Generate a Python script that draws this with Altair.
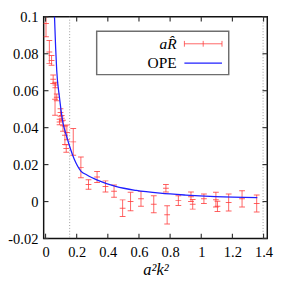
import altair as alt
import pandas as pd

# ---- data ----
x_vals = [0.003, 0.0245, 0.0387, 0.049, 0.063, 0.061, 0.072, 0.090, 0.096, 0.104,
          0.112, 0.1245, 0.133, 0.137, 0.178, 0.227, 0.276, 0.331, 0.385, 0.440,
          0.495, 0.546, 0.613, 0.695, 0.773, 0.781, 0.853, 0.934, 0.945, 1.017,
          1.094, 1.104, 1.176, 1.262, 1.356]
y_vals = [0.0964, 0.081, 0.0764, 0.0662, 0.0631, 0.0554, 0.0564, 0.0431, 0.0482, 0.0451,
          0.041, 0.0359, 0.0287, 0.0374, 0.0323, 0.0185, 0.0092, 0.0133, 0.0082, 0.0056,
          -0.0036, 0.0, 0.0015, -0.0015, 0.0072, -0.0072, 0.0005, 0.0026, -0.0015, 0.0015,
          0.001, -0.0026, -0.0005, 0.0015, -0.001]
err_vals = [0.0072, 0.0062, 0.0026, 0.0023, 0.0015, 0.0087, 0.0018, 0.0015, 0.002, 0.0015,
            0.003, 0.005, 0.002, 0.004, 0.0072, 0.0056, 0.0026, 0.003, 0.003, 0.0033,
            0.0045, 0.005, 0.004, 0.0046, 0.002, 0.0049, 0.0026, 0.0026, 0.0026, 0.0026,
            0.004, 0.0028, 0.0046, 0.0044, 0.0046]
ope_x = [0.057, 0.065, 0.072, 0.09, 0.112, 0.133, 0.184, 0.227, 0.266, 0.337, 0.45,
         0.583, 0.736, 0.9, 1.09, 1.36]
ope_y = [0.1015, 0.083, 0.0708, 0.056, 0.0426, 0.036, 0.023, 0.0165, 0.0144, 0.0115,
         0.0082, 0.006, 0.0045, 0.0035, 0.0027, 0.0021]
x_ticks = [0, 0.2, 0.4, 0.6, 0.8, 1.0, 1.2, 1.4]
y_ticks = [-0.02, 0, 0.02, 0.04, 0.06, 0.08, 0.1]
cut_lines = [0.155, 1.397]
legend_labels = ["aR\u0302", "OPE"]
x_title = "a\u00b2k\u00b2"

W, H = 232, 230
FONT = "Liberation Serif"
RED = "#ff3b3b"
BLUE = "#1f1fff"

xs = alt.Scale(domain=[-0.012, 1.424], nice=False, zero=False)
ys = alt.Scale(domain=[-0.02, 0.1], nice=False, zero=False)
xaxis = alt.Axis(values=x_ticks, format=".1~f", ticks=False, domain=False, grid=False,
                 labelPadding=7, labelFontSize=15, title=x_title, titleFontStyle="italic",
                 titleFontWeight="normal", titleFontSize=17, titlePadding=2,
                 titleFont=FONT)
yaxis = alt.Axis(values=y_ticks, ticks=False, domain=False, grid=False,
                 labelExpr="datum.value < 0 ? '-' + format(-datum.value, '.2~f') : format(datum.value, '.2~f')",
                 labelPadding=6, labelFontSize=15, title=None)

pts = pd.DataFrame({"x": x_vals, "y": y_vals, "e": err_vals})
pts["lo"] = pts["y"] - pts["e"]
pts["hi"] = pts["y"] + pts["e"]
ope = pd.DataFrame({"x": ope_x, "y": ope_y})
xt = pd.DataFrame({"v": x_ticks})
yt = pd.DataFrame({"v": y_ticks})
cuts = pd.DataFrame({"v": cut_lines})
leg = pd.DataFrame({"label": legend_labels})

X = alt.X("x:Q", scale=xs, axis=xaxis)
Y = alt.Y("y:Q", scale=ys, axis=yaxis)

cut_layer = alt.Chart(cuts).mark_rule(color="#999999", strokeWidth=1, strokeDash=[1, 2]).encode(
    x=alt.X("v:Q", scale=xs, axis=xaxis))

bars = alt.Chart(pts).mark_rule(color=RED, strokeWidth=1, opacity=0.8, clip=True).encode(
    x=X, y=alt.Y("lo:Q", scale=ys, axis=yaxis), y2="hi:Q")
caps = alt.Chart(pts).transform_fold(["lo", "y", "hi"], as_=["k", "yy"]).mark_tick(
    orient="horizontal", size=6, thickness=1, color=RED, opacity=0.8, clip=True).encode(
    x=X, y=alt.Y("yy:Q", scale=ys, axis=yaxis))

line = alt.Chart(ope).mark_line(color=BLUE, strokeWidth=1.3, interpolate="monotone",
                                clip=True).encode(x=X, y=Y)

TK = dict(color="#333333", strokeWidth=1.2)
left_t = alt.Chart(yt).mark_rule(**TK).encode(y=alt.Y("v:Q", scale=ys, axis=yaxis),
                                              x=alt.value(0), x2=alt.value(5))
right_t = alt.Chart(yt).mark_rule(**TK).encode(y=alt.Y("v:Q", scale=ys, axis=yaxis),
                                               x=alt.value(W - 5), x2=alt.value(W))
bot_t = alt.Chart(xt).mark_rule(**TK).encode(x=alt.X("v:Q", scale=xs, axis=xaxis),
                                             y=alt.value(H - 5), y2=alt.value(H))
top_t = alt.Chart(xt).mark_rule(**TK).encode(x=alt.X("v:Q", scale=xs, axis=xaxis),
                                             y=alt.value(0), y2=alt.value(5))

# legend (drawn by hand: label left, sample right, as in the reference)
lx0, lx1, ly0, ly1 = 55, 192, 15, 60
box = alt.Chart(leg).transform_filter(alt.datum.label == "OPE").mark_rect(
    fill="white", stroke="#6e6e6e", strokeWidth=1.5).encode(
    x=alt.value(lx0), x2=alt.value(lx1), y=alt.value(ly0), y2=alt.value(ly1))
txt1 = alt.Chart(leg).transform_filter(alt.datum.label == legend_labels[0]).mark_text(
    align="right", baseline="middle", font=FONT, fontSize=16, fontStyle="italic",
    color="black").encode(text="label:N", x=alt.value(138), y=alt.value(28))
txt2 = alt.Chart(leg).transform_filter(alt.datum.label == legend_labels[1]).mark_text(
    align="right", baseline="middle", font=FONT, fontSize=16,
    color="black").encode(text="label:N", x=alt.value(138), y=alt.value(48))
s_h = alt.Chart(leg).transform_filter(alt.datum.label == legend_labels[0]).mark_rule(
    color=RED, strokeWidth=1, opacity=0.8).encode(
    x=alt.value(146), x2=alt.value(185), y=alt.value(28))
s_c1 = alt.Chart(leg).transform_filter(alt.datum.label == legend_labels[0]).mark_rule(
    color=RED, strokeWidth=1, opacity=0.8).encode(
    x=alt.value(146), y=alt.value(25), y2=alt.value(31))
s_c2 = alt.Chart(leg).transform_filter(alt.datum.label == legend_labels[0]).mark_rule(
    color=RED, strokeWidth=1, opacity=0.8).encode(
    x=alt.value(165.5), y=alt.value(25), y2=alt.value(31))
s_c3 = alt.Chart(leg).transform_filter(alt.datum.label == legend_labels[0]).mark_rule(
    color=RED, strokeWidth=1, opacity=0.8).encode(
    x=alt.value(185), y=alt.value(25), y2=alt.value(31))
s_l = alt.Chart(leg).transform_filter(alt.datum.label == legend_labels[1]).mark_rule(
    color=BLUE, strokeWidth=1.3).encode(
    x=alt.value(146), x2=alt.value(185), y=alt.value(48))

chart = alt.layer(
    cut_layer, bars, caps, line, left_t, right_t, bot_t, top_t,
    box, txt1, txt2, s_h, s_c1, s_c2, s_c3, s_l
).properties(
    width=W, height=H,
    autosize=alt.AutoSizeParams(type="none"),
    padding={"left": 37, "top": 4, "right": 8, "bottom": 40},
    background="white",
).configure_view(
    stroke="#111111", strokeWidth=1.5
).configure_axis(
    labelFont=FONT, labelFontSize=15, labelColor="black", titleColor="black"
)

chart.save("out.html", embed_options={"renderer": "svg", "actions": False})
